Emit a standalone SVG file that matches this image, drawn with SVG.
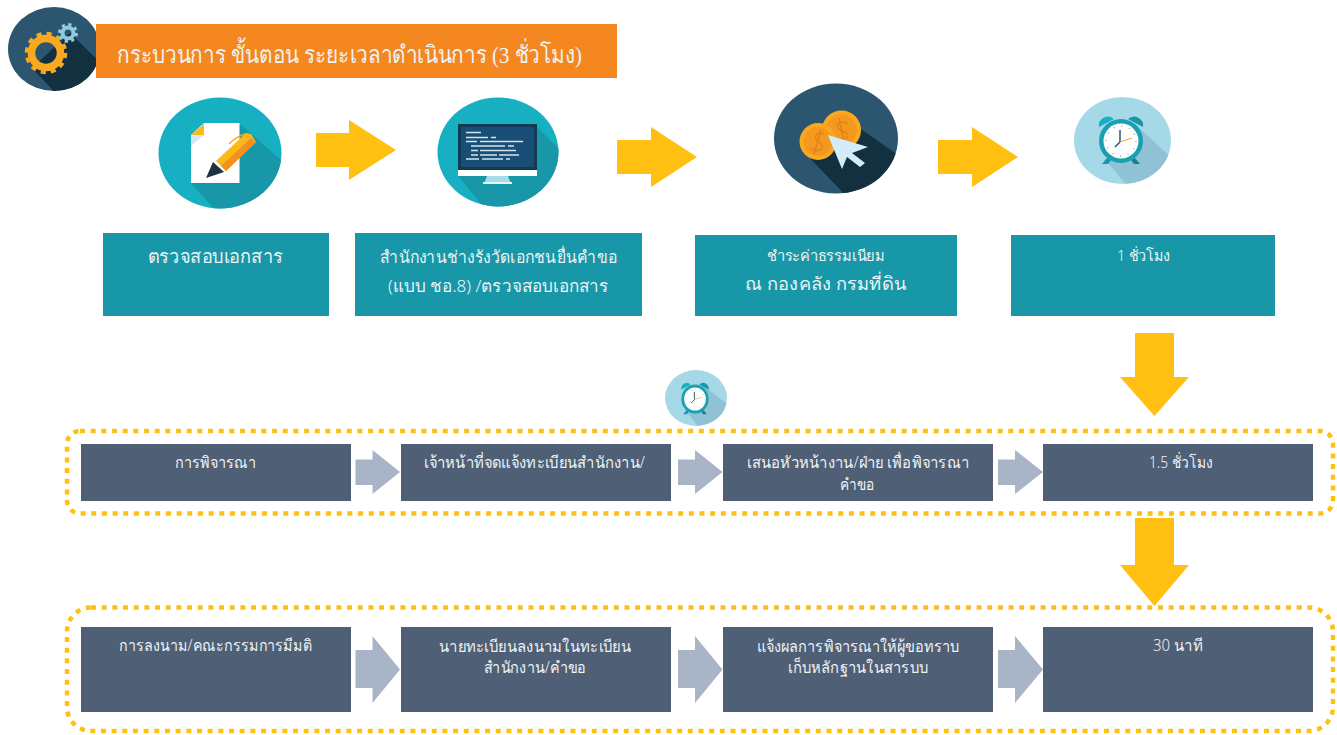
<svg xmlns="http://www.w3.org/2000/svg" width="1337" height="735" viewBox="0 0 1337 735">
<defs>
<clipPath id="cg"><ellipse cx="54" cy="49" rx="46" ry="42"/></clipPath>
<clipPath id="cp"><ellipse cx="220" cy="153" rx="61.500" ry="55.500"/></clipPath>
<clipPath id="cm"><ellipse cx="498" cy="152" rx="60.500" ry="54.500"/></clipPath>
<clipPath id="cc"><ellipse cx="836" cy="138.500" rx="62" ry="55"/></clipPath>
<clipPath id="ca"><ellipse cx="1122.500" cy="140.500" rx="48.500" ry="43.500"/></clipPath>
<clipPath id="cb"><ellipse cx="696" cy="398" rx="31" ry="28"/></clipPath>
<g id="clock">
<path d="M-22-14A9 9 0 0 1-7-22Z" fill="#17b0c2"/>
<path d="M22-14A9 9 0 0 0 7-22Z" fill="#1797a7"/>
<path d="M-14 17L-19 23H-13L-10 19Z" fill="#1797a7"/>
<path d="M14 17L19 23H13L10 19Z" fill="#17808f"/>
<circle r="22" fill="#1aa0b0"/>
<circle r="17.500" fill="#fff"/>
<circle r="15" fill="none" stroke="#7b8c98" stroke-width="1.400" stroke-dasharray=".8 7.050"/>
<path d="M-1-11V1L-6 6" fill="none" stroke="#2c5670" stroke-width="1.500"/>
<path d="M-1 1L11-3" fill="none" stroke="#f8a91f" stroke-width="1"/>
</g>
</defs>
<style>
.teal{fill:#1797a7}
.slate{fill:#4f5f75}
.y{fill:#ffc012}
.g{fill:#a9b5c7}
.t{font-family:"Noto Sans","Liberation Sans",sans-serif;font-weight:300;fill:#eef3f6;text-anchor:middle;font-size:16px}
.frame{fill:none;stroke:#ffc012;stroke-width:4.500;stroke-dasharray:5 5.670}
</style>

<g id="frame1"><rect class="frame" x="67" y="431" width="1266" height="82.500" rx="13"/></g>
<g id="frame2"><rect class="frame" x="67" y="607.500" width="1266" height="123.500" rx="24"/></g>

<g id="connectors">
<path class="y" d="M316 133H349V120L396 150L349 180V167H316Z"/>
<path class="y" d="M617 140H651V127L697 157L651 187V174H617Z"/>
<path class="y" d="M938 140H972V127L1018 157L972 187V174H938Z"/>
<path class="y" d="M1135 333H1174V377H1189L1154.500 416L1120 377H1135Z"/>
<path class="y" d="M1135 518H1174V565H1189L1154.500 606L1120 565H1135Z"/>
<path class="g" d="M355.500 459.500H372.500V450L400 472L372.500 494V485H355.500Z"/>
<path class="g" d="M678 459.500H695V450L722.500 472L695 494V485H678Z"/>
<path class="g" d="M998 459.500H1015V450L1043 472L1015 494V485H998Z"/>
<path class="g" d="M355.500 650H372.500V636L400 669.500L372.500 703V688H355.500Z"/>
<path class="g" d="M678 650H695V636L722.500 669.500L695 703V688H678Z"/>
<path class="g" d="M998 650H1015V636L1043 669.500L1015 703V688H998Z"/>
</g>

<g id="icon-gears">
<ellipse cx="54" cy="49" rx="46" ry="42" fill="#2c5670"/>
<path clip-path="url(#cg)" d="M70 33L110 72V100H62L32 68Z" fill="#12303f"/>
<circle cx="46" cy="53" r="14.500" fill="none" stroke="#f8a91f" stroke-width="7.500"/>
<circle cx="46" cy="53" r="19" fill="none" stroke="#f8a91f" stroke-width="4.500" stroke-dasharray="5 4.950"/>
<circle cx="68" cy="33" r="5.500" fill="none" stroke="#8fcbe0" stroke-width="4"/>
<circle cx="68" cy="33" r="8.500" fill="none" stroke="#8fcbe0" stroke-width="3" stroke-dasharray="3.300 3.370"/>
</g>

<g id="title">
<rect x="96" y="24" width="521" height="54" fill="#f58720"/>
<text class="t" x="349.500" y="63" textLength="465" lengthAdjust="spacingAndGlyphs" style="font-size:24px;font-family:'Liberation Serif','Noto Sans',serif">กระบวนการ ขั้นตอน ระยะเวลาดำเนินการ  (3 ชั่วโมง)</text>
</g>

<g id="icon-pen">
<ellipse cx="220" cy="153" rx="61.500" ry="55.500" fill="#17b0c2"/>
<path clip-path="url(#cp)" d="M240 124L290 168V215H220L191 183Z" fill="#1797a7"/>
<path d="M204 123H239.500V183H191V135Z" fill="#fff"/>
<path d="M204 124V135H191Z" fill="#fbb917"/>
<path d="M191 135H204L191 146Z" fill="#cfe9f6"/>
<path d="M229 144Q238 135 246 134" fill="none" stroke="#f8a91f" stroke-width="1.500"/>
<path d="M216 161L246 133L251 134L256 142L226 171Z" fill="#fbb917"/>
<path d="M221 166L251 138L256 142L226 171Z" fill="#f58f1f"/>
<path d="M213 162L224 172L206 178Z" fill="#1c3342"/>
</g>

<g id="icon-monitor">
<ellipse cx="498" cy="152" rx="60.500" ry="54.500" fill="#17b0c2"/>
<path clip-path="url(#cm)" d="M535 125L570 160V215H490L458 176Z" fill="#1797a7"/>
<rect x="458" y="124" width="79" height="46" fill="#123a52"/>
<rect x="461" y="127" width="73" height="40" fill="#184d75"/>
<rect x="458" y="170" width="79" height="6" fill="#fff"/>
<path d="M487 176H508L511 184H484Z" fill="#a8dcec"/>
<rect x="483" y="182" width="29" height="2" fill="#e5f4fa"/>
<path d="M466 132.500H481M466 137.500H488M491 137.500H496M466 141.500H477M480 141.500H523M471 146H505M508 146H514M471 150.500H478M480 150.500H516M471 155H478M480 155H497M499 155H519M466 159H479M482 159H503M506 159H510" stroke="#d5e4ee" stroke-width="1.300" fill="none"/>
</g>

<g id="icon-coins">
<ellipse cx="836" cy="138.500" rx="62" ry="55" fill="#2c5670"/>
<path clip-path="url(#cc)" d="M855 125L905 160V200H850L807 155Z" fill="#12303f"/>
<circle cx="841.500" cy="130" r="19.500" fill="#f8a91f"/>
<circle cx="841.500" cy="130" r="15.500" fill="#f39a1e"/>
<path d="M848 124C842 120 835 123 838 128C840 132 849 131 848 136C846 140 839 140 834 137M839 118L844 142" fill="none" stroke="#e07f1b" stroke-width="1.300"/>
<circle cx="818" cy="141.500" r="18.500" fill="#f8a91f"/>
<circle cx="818" cy="141.500" r="14.500" fill="#f39a1e"/>
<path d="M824 134C820 131 814 134 816 139C818 143 824 143 822 148C820 152 814 151 811 148M821 130L814 154" fill="none" stroke="#e07f1b" stroke-width="1.300"/>
<path d="M828 135L868 147L852 153L865 163L860 167L847 157L842 169Z" fill="#d3ecf9"/>
</g>

<g id="icon-clock1">
<ellipse cx="1122.500" cy="140.500" rx="48.500" ry="43.500" fill="#a6d9e8"/>
<path clip-path="url(#ca)" d="M1135 124L1180 166V195H1135L1108 163Z" fill="#90c2d5"/>
<use href="#clock" transform="translate(1121 141)"/>
</g>

<g id="icon-clock2">
<ellipse cx="696" cy="398" rx="31" ry="28" fill="#a6d9e8"/>
<path clip-path="url(#cb)" d="M703 385L732 408V430H701L685 410Z" fill="#90c2d5"/>
<use href="#clock" transform="translate(695 399) scale(.62 .66)"/>
</g>

<g id="n1"><rect class="teal" x="103" y="233" width="226" height="83"/><text class="t" x="215.500" y="263" textLength="135" lengthAdjust="spacingAndGlyphs" style="font-size:19px">ตรวจสอบเอกสาร</text></g>
<g id="n2"><rect class="teal" x="355" y="233" width="287" height="83"/><text class="t" x="498.500" y="263" textLength="237" lengthAdjust="spacingAndGlyphs" style="font-size:17px">สำนักงานช่างรังวัดเอกชนยื่นคำขอ</text><text class="t" x="498" y="292" textLength="220" lengthAdjust="spacingAndGlyphs" style="font-size:17px">(แบบ ชอ.8) /ตรวจสอบเอกสาร</text></g>
<g id="n3"><rect class="teal" x="695" y="235" width="262" height="81"/><text class="t" x="826" y="261" textLength="118" lengthAdjust="spacingAndGlyphs" style="font-size:15px">ชำระค่าธรรมเนียม</text><text class="t" x="825.500" y="290" textLength="161" lengthAdjust="spacingAndGlyphs" style="font-size:18px">ณ กองคลัง กรมที่ดิน</text></g>
<g id="n4"><rect class="teal" x="1011" y="235" width="264" height="81"/><text class="t" x="1143.500" y="261" textLength="53" lengthAdjust="spacingAndGlyphs" style="font-size:15px">1 ชั่วโมง</text></g>

<g id="n5"><rect class="slate" x="81" y="444" width="270" height="57"/><text class="t" x="215.500" y="468" textLength="81" lengthAdjust="spacingAndGlyphs">การพิจารณา</text></g>
<g id="n6"><rect class="slate" x="401" y="444" width="270" height="57"/><text class="t" x="534.500" y="468" textLength="221" lengthAdjust="spacingAndGlyphs">เจ้าหน้าที่จดแจ้งทะเบียนสำนักงาน/</text></g>
<g id="n7"><rect class="slate" x="723" y="444" width="270" height="57"/><text class="t" x="858" y="468" textLength="222" lengthAdjust="spacingAndGlyphs">เสนอหัวหน้างาน/ฝ่าย เพื่อพิจารณา</text><text class="t" x="857.500" y="490" textLength="35" lengthAdjust="spacingAndGlyphs">คำขอ</text></g>
<g id="n8"><rect class="slate" x="1043" y="444" width="270" height="57"/><text class="t" x="1181" y="468" textLength="64" lengthAdjust="spacingAndGlyphs">1.5 ชั่วโมง</text></g>

<g id="n9"><rect class="slate" x="81" y="627" width="270" height="85"/><text class="t" x="215.500" y="651" textLength="193" lengthAdjust="spacingAndGlyphs">การลงนาม/คณะกรรมการมีมติ</text></g>
<g id="n10"><rect class="slate" x="401" y="627" width="270" height="85"/><text class="t" x="535" y="652" textLength="192" lengthAdjust="spacingAndGlyphs">นายทะเบียนลงนามในทะเบียน</text><text class="t" x="535" y="673" textLength="103" lengthAdjust="spacingAndGlyphs">สำนักงาน/คำขอ</text></g>
<g id="n11"><rect class="slate" x="723" y="627" width="270" height="85"/><text class="t" x="858" y="652" textLength="203" lengthAdjust="spacingAndGlyphs">แจ้งผลการพิจารณาให้ผู้ขอทราบ</text><text class="t" x="858" y="673" textLength="140" lengthAdjust="spacingAndGlyphs">เก็บหลักฐานในสารบบ</text></g>
<g id="n12"><rect class="slate" x="1043" y="627" width="270" height="85"/><text class="t" x="1178" y="651" textLength="50" lengthAdjust="spacingAndGlyphs">30 นาที</text></g>
</svg>
